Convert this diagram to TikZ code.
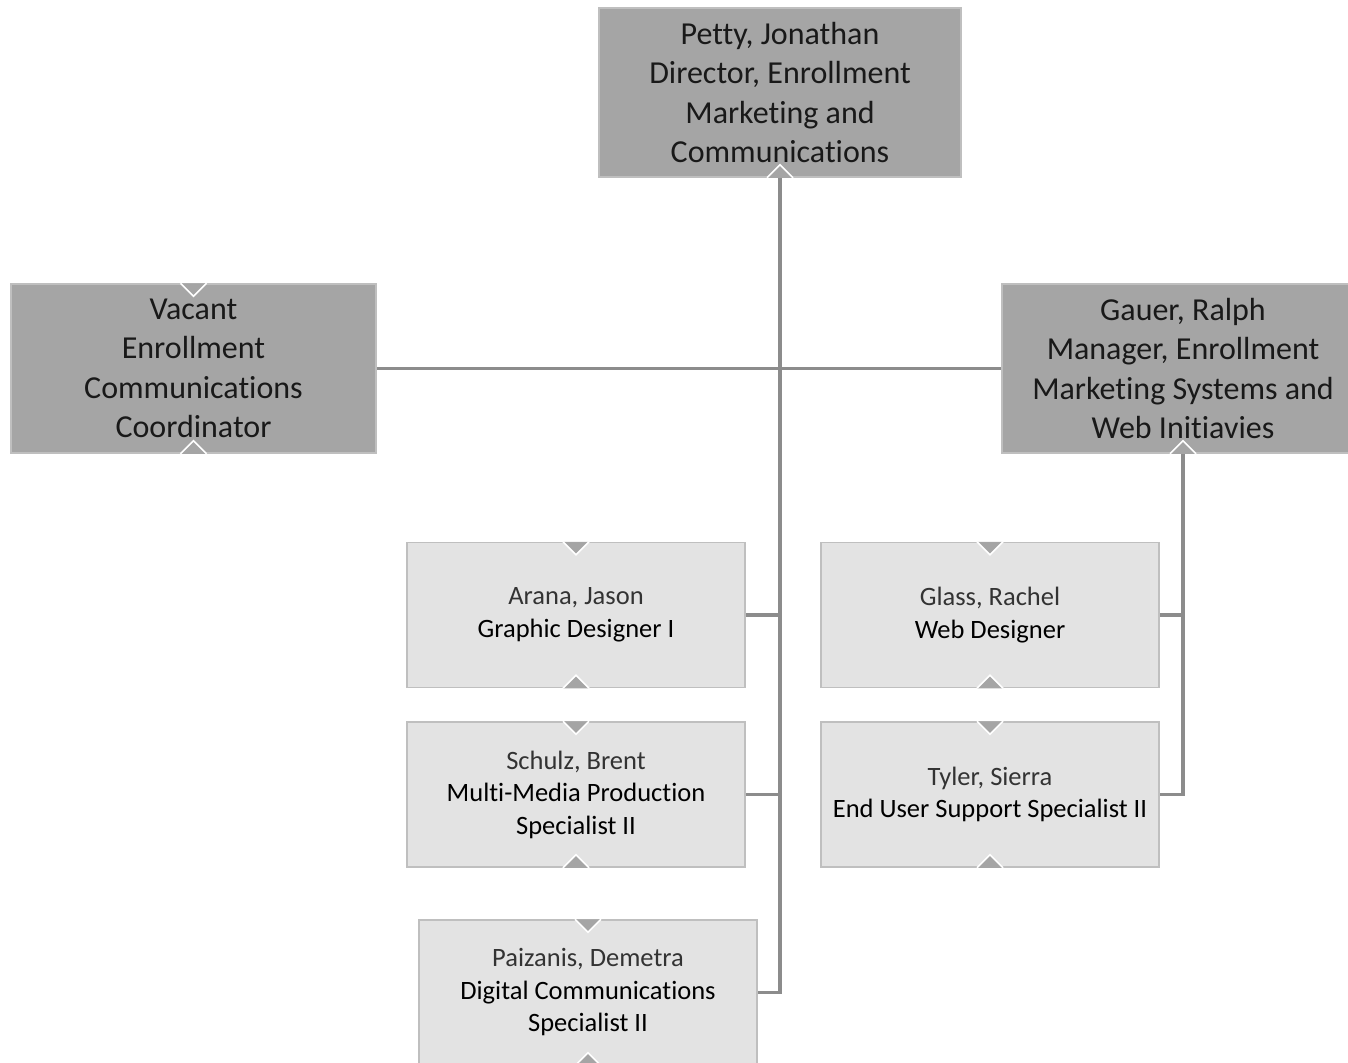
\documentclass[tikz,border=0pt]{standalone}
\usepackage{fontspec}
\setmainfont{Carlito}[Ligatures=NoCommon]
\definecolor{darkfill}{HTML}{A5A5A5}
\definecolor{lightfill}{HTML}{E3E3E3}
\definecolor{boxline}{HTML}{BFBFBF}
\definecolor{connline}{HTML}{8C8C8C}
\definecolor{nametext}{HTML}{333333}
\tikzset{
  bigbox/.style={draw=boxline, line width=1.5pt, fill=darkfill, minimum width=362pt, minimum height=169pt, align=center, inner sep=0pt, text=black!90, font=\fontsize{32}{39.5}\selectfont},
  smallbox/.style={draw=boxline, line width=1.5pt, fill=lightfill, minimum width=338pt, minimum height=145pt, align=center, inner sep=0pt, text=black, font=\fontsize{26.5}{32.5}\selectfont},
  conn/.style={draw=connline, line width=3.5pt},
}
\newcommand{\notchdown}[2]{% node, fill
  \fill[#2] ([xshift=-13pt]#1.north) -- ([xshift=13pt]#1.north) -- ([yshift=-13pt]#1.north) -- cycle;
  \draw[white, line width=1.6pt] ([xshift=-13pt]#1.north) -- ([yshift=-13pt]#1.north) -- ([xshift=13pt]#1.north);}
\newcommand{\notchup}[2]{%
  \fill[#2] ([xshift=-13pt]#1.south) -- ([xshift=13pt]#1.south) -- ([yshift=13pt]#1.south) -- cycle;
  \draw[white, line width=1.6pt] ([xshift=-13pt]#1.south) -- ([yshift=13pt]#1.south) -- ([xshift=13pt]#1.south);}
\newcommand{\nm}[1]{\textcolor{nametext}{#1}}
\begin{document}
\begin{tikzpicture}[x=1pt,y=-1pt]
\useasboundingbox (0,0) rectangle (1348,1062);
\begin{scope}
\clip (0,0) rectangle (1348,1062);
\node[bigbox] (petty) at (780,92.5) {Petty, Jonathan\\Director, Enrollment\\Marketing and\\Communications};
\node[bigbox, minimum width=365pt] (vac) at (193.5,368.5) {Vacant\\Enrollment\\Communications\\Coordinator};
\node[bigbox] (gau) at (1183,368.5) {Gauer, Ralph\\Manager, Enrollment\\Marketing Systems and\\Web Initiavies};
\node[smallbox] (arana) at (576,615) {\nm{Arana, Jason}\\Graphic Designer I};
\node[smallbox] (schulz) at (576,794.5) {\nm{Schulz, Brent}\\Multi-Media Production\\Specialist II};
\node[smallbox] (paiz) at (588,992.5) {\nm{Paizanis, Demetra}\\Digital Communications\\Specialist II};
\node[smallbox] (glass) at (990,615) {\nm{Glass, Rachel}\\Web Designer};
\node[smallbox] (tyler) at (990,794.5) {\nm{Tyler, Sierra}\\End User Support Specialist II};
% connectors
\draw[conn] (petty.south) -- (petty.south |- paiz.east) -- (paiz.east);
\draw[conn] (vac.east) -- (gau.west);
\draw[conn] (arana.east) -- (arana.east -| petty.south);
\draw[conn] (schulz.east) -- (schulz.east -| petty.south);
\draw[conn] (gau.south) -- (gau.south |- tyler.east) -- (tyler.east);
\draw[conn] (glass.east) -- (glass.east -| gau.south);
% notches
\notchup{petty}{darkfill}
\notchdown{vac}{darkfill}
\notchup{vac}{darkfill}
\notchup{gau}{darkfill}
\foreach \n in {arana,schulz,paiz,glass,tyler}{
  \notchdown{\n}{darkfill}
  \notchup{\n}{darkfill}
}
\end{scope}
\end{tikzpicture}
\end{document}
